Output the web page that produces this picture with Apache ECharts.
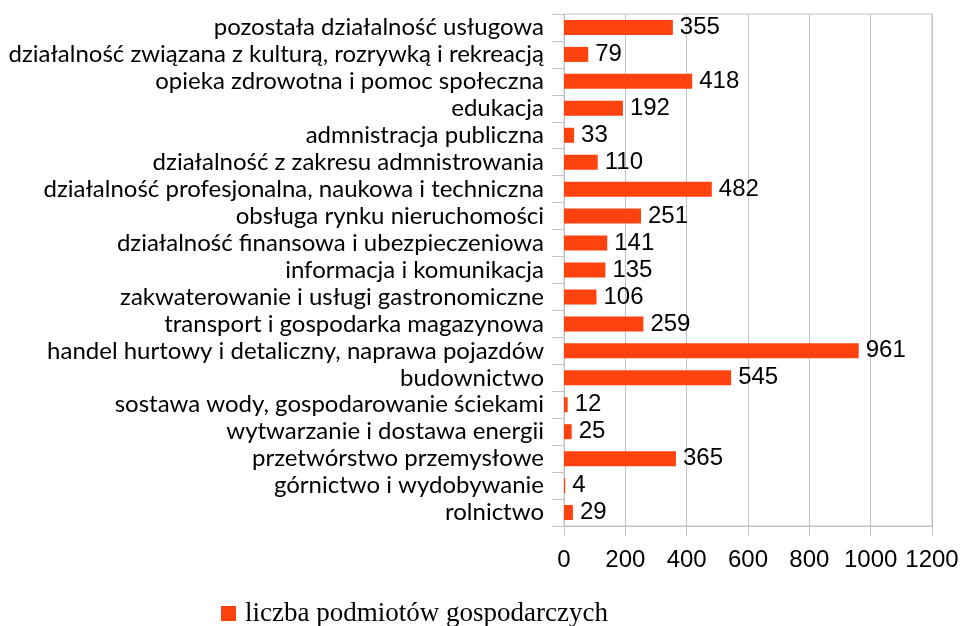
<!DOCTYPE html>
<html>
<head>
<meta charset="utf-8">
<script src="https://cdn.jsdelivr.net/npm/echarts@6/dist/echarts.min.js"></script>
<style>
  html, body { margin: 0; padding: 0; background: #fff; }
  #chart { width: 963px; height: 626px; }
</style>
</head>
<body>
<div id="chart"></div>
<script>
// kategorie od dołu do góry
const categories = [
    'rolnictwo',
    'górnictwo i wydobywanie',
    'przetwórstwo przemysłowe',
    'wytwarzanie i dostawa energii',
    'sostawa wody, gospodarowanie ściekami',
    'budownictwo',
    'handel hurtowy i detaliczny, naprawa pojazdów',
    'transport i gospodarka magazynowa',
    'zakwaterowanie i usługi gastronomiczne',
    'informacja i komunikacja',
    'działalność finansowa i ubezpieczeniowa',
    'obsługa rynku nieruchomości',
    'działalność profesjonalna, naukowa i techniczna',
    'działalność z zakresu admnistrowania',
    'admnistracja publiczna',
    'edukacja',
    'opieka zdrowotna i pomoc społeczna',
    'działalność związana z kulturą, rozrywką i rekreacją',
    'pozostała działalność usługowa'
];
const values = [29, 4, 365, 25, 12, 545, 961, 259, 106, 135, 141, 251, 482, 110, 33, 192, 418, 79, 355];
const seriesName = 'liczba podmiotów gospodarczych';

const gridColor = '#c3c3c3';
const barColor = '#ff420e';

const chart = echarts.init(document.getElementById('chart'), null, { renderer: 'canvas' });

chart.setOption({
    animation: false,
    grid: {
        left: 564,
        right: 31,
        top: 14,
        bottom: 100,
        show: true,
        borderColor: gridColor,
        borderWidth: 1
    },
    legend: {
        data: [seriesName],
        left: 221,
        top: 600,
        padding: 0,
        icon: 'rect',
        itemWidth: 15,
        itemHeight: 15,
        itemGap: 10,
        textStyle: {
            fontFamily: 'Liberation Serif',
            fontSize: 27,
            color: '#000',
            padding: [0, 0, 0, 4]
        }
    },
    xAxis: {
        type: 'value',
        min: 0,
        max: 1200,
        interval: 200,
        axisLine: { show: true, lineStyle: { color: gridColor } },
        axisTick: { show: true, length: 10, lineStyle: { color: gridColor } },
        splitLine: { show: true, lineStyle: { color: gridColor, width: 1 } },
        axisLabel: {
            margin: 22,
            fontFamily: 'Liberation Sans',
            fontSize: 24,
            color: '#000',
            formatter: v => String(v)
        }
    },
    yAxis: {
        type: 'category',
        data: categories,
        axisLine: { show: true, lineStyle: { color: gridColor } },
        axisTick: { show: true, length: 12, lineStyle: { color: gridColor } },
        axisLabel: {
            interval: 0,
            margin: 20,
            fontFamily: 'Lato',
            fontSize: 24,
            color: '#000'
        }
    },
    series: [{
        name: seriesName,
        type: 'bar',
        data: values,
        barWidth: 15,
        itemStyle: { color: barColor },
        label: {
            show: true,
            position: 'right',
            distance: 7,
            fontFamily: 'Liberation Sans',
            fontSize: 24,
            color: '#000'
        }
    }]
});
</script>
</body>
</html>
